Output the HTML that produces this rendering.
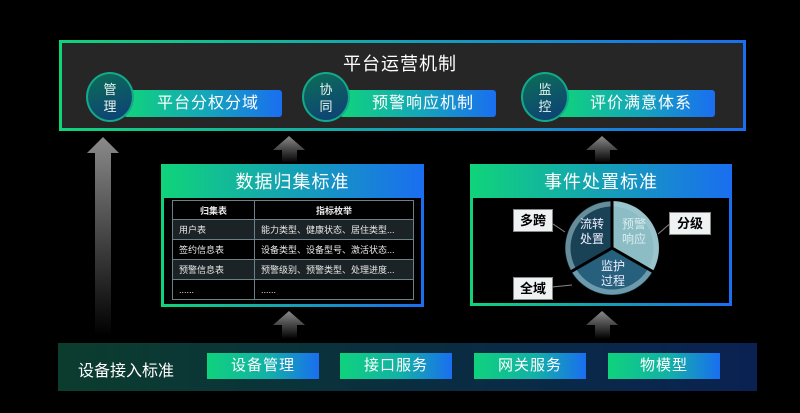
<!DOCTYPE html>
<html><head><meta charset="utf-8"><style>
*{margin:0;padding:0;box-sizing:border-box}
body{width:800px;height:413px;background:#000;position:relative;overflow:hidden;font-family:"Liberation Sans","Noto Sans CJK SC",sans-serif;color:#fff}
.abs{position:absolute}
.gb{background:linear-gradient(90deg,#10d47a,#1a6ef0)}
.top{left:59px;top:40px;width:687px;height:91px;padding:3px}
.top .in{width:100%;height:100%;background:#262626}
.circ{width:48px;height:50px;border-radius:50%;background:linear-gradient(160deg,#0c6e55,#0e3f78);border:2px solid #13a98a;font-size:13px;line-height:17px;text-align:center;padding-top:7px;color:#e8f4f0}
.bar{height:27px;border-radius:3px;font-size:16px;line-height:27px;text-align:center;letter-spacing:1px;white-space:nowrap;background:linear-gradient(90deg,#10d47a,#14a8b8 50%,#1a6ef0)}
.box{padding:3px;background:linear-gradient(90deg,#10d47a,#1a6ef0)}
.box .hd{height:31px;font-size:18px;line-height:31px;text-align:center;letter-spacing:1px}
.box .bd{background:#000;position:absolute;left:3px;right:3px;top:34px;bottom:3px}
table{border-collapse:collapse;font-size:9px;position:absolute;left:8px;top:2px;width:242px}
td{border:1px solid #6c8088;height:20px;padding-left:6px;color:#e8e8e8}
tr:nth-child(even) td{background:#1c2326}
tr:first-child td{font-weight:bold;text-align:center;padding:0;height:19px}
.lbl{background:#eef2f2;color:#000;font-weight:bold;font-size:13px;text-align:center;line-height:21px;border:1px solid #888}
.btn{top:353px;width:112px;height:26px;font-size:15px;line-height:26px;text-align:center;letter-spacing:1px;background:linear-gradient(90deg,#0fd27c,#13b0a8 55%,#1a6ef0)}
</style></head><body>
<div class="abs top gb"><div class="in"></div></div>
<div class="abs" style="left:0;width:800px;top:50px;text-align:center;font-size:18px;letter-spacing:1px">平台运营机制</div>

<div class="abs bar" style="left:124px;top:90px;width:158px;padding-left:10px">平台分权分域</div>
<div class="abs circ" style="left:86px;top:72px">管<br>理</div>
<div class="abs bar" style="left:340px;top:90px;width:156px;padding-left:10px">预警响应机制</div>
<div class="abs circ" style="left:302px;top:72px">协<br>同</div>
<div class="abs bar" style="left:557px;top:90px;width:158px;padding-left:10px">评价满意体系</div>
<div class="abs circ" style="left:521px;top:72px">监<br>控</div>

<svg class="abs" style="left:0;top:0" width="800" height="413">
<defs>
<linearGradient id="ag" x1="0" y1="0" x2="0" y2="1"><stop offset="0" stop-color="#8a8a8a"/><stop offset="1" stop-color="#8a8a8a" stop-opacity="0"/></linearGradient>
</defs>
<polygon points="103,137 119,153 111,153 111,336 95,336 95,153 87,153" fill="url(#ag)"/>
<polygon points="289,136 305,150 297,150 297,163 282,163 282,150 273,150" fill="url(#ag)"/>
<polygon points="602,136 618,150 610,150 610,163 595,163 595,150 586,150" fill="url(#ag)"/>
<polygon points="289,311 305,325 297,325 297,339 282,339 282,325 273,325" fill="url(#ag)"/>
<polygon points="602,311 618,325 610,325 610,339 595,339 595,325 586,325" fill="url(#ag)"/>
</svg>

<div class="abs box" style="left:161px;top:164px;width:263px;height:143px">
<div class="hd">数据归集标准</div>
<div class="bd"><table>
<tr><td style="width:82px">归集表</td><td>指标枚举</td></tr>
<tr><td>用户表</td><td>能力类型、健康状态、居住类型...</td></tr>
<tr><td>签约信息表</td><td>设备类型、设备型号、激活状态...</td></tr>
<tr><td>预警信息表</td><td>预警级别、预警类型、处理进度...</td></tr>
<tr><td>......</td><td>......</td></tr>
</table></div></div>

<div class="abs box" style="left:470px;top:164px;width:262px;height:142px">
<div class="hd">事件处置标准</div>
<div class="bd"></div></div>
<svg class="abs" style="left:470px;top:164px" width="262" height="142">
<g transform="translate(142,84)">
<path d="M0,0 L0,-47 A47,47 0 0 1 40.7,23.5 Z" fill="#8cbcc4"/>
<path d="M0,0 L40.7,23.5 A47,47 0 0 1 -40.7,23.5 Z" fill="#27607c"/>
<path d="M0,0 L-40.7,23.5 A47,47 0 0 1 0,-47 Z" fill="#1a4256"/>
<circle r="44" fill="none" stroke="#a8ccd6" stroke-width="5" opacity="0.55"/>
<g stroke="#000" stroke-width="3"><line x1="0" y1="0" x2="0" y2="-49"/><line x1="0" y1="0" x2="42.4" y2="24.5"/><line x1="0" y1="0" x2="-42.4" y2="24.5"/></g>
<g font-size="12" fill="#eef" text-anchor="middle">
<text x="-20" y="-20">流转</text><text x="-20" y="-5">处置</text>
<text x="22" y="-20" fill="#d8eef0">预警</text><text x="22" y="-5" fill="#d8eef0">响应</text>
<text x="1" y="22">监护</text><text x="1" y="37">过程</text>
</g>
<g stroke="#888" stroke-width="1"><line x1="-80" y1="-38" x2="-47" y2="-16"/><line x1="67" y1="-32" x2="46" y2="-14"/><line x1="-70" y1="40" x2="-40" y2="37"/></g>
</g>
</svg>
<div class="abs lbl" style="left:513px;top:209px;width:40px">多跨</div>
<div class="abs lbl" style="left:669px;top:212px;width:42px">分级</div>
<div class="abs lbl" style="left:513px;top:277px;width:40px">全域</div>

<div class="abs" style="left:58px;top:343px;width:699px;height:48px;background:linear-gradient(90deg,#0b3d2e,#0a2e40 50%,#0a2252)"></div>
<div class="abs" style="left:78px;top:357px;font-size:16px">设备接入标准</div>
<div class="abs btn" style="left:207px">设备管理</div>
<div class="abs btn" style="left:340px">接口服务</div>
<div class="abs btn" style="left:474px">网关服务</div>
<div class="abs btn" style="left:608px">物模型</div>
</body></html>
